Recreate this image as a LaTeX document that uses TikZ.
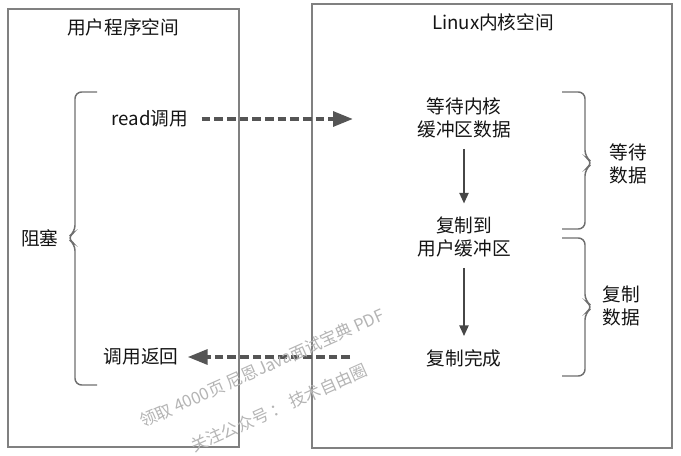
\documentclass[tikz,border=0pt]{standalone}
\usepackage{fontspec}
\setmainfont{Noto Sans CJK SC}
\usetikzlibrary{arrows.meta}
\begin{document}
\begin{tikzpicture}[x=0.75pt,y=0.75pt,yscale=-1,xscale=1,
    label/.style={inner sep=0.75pt,align=center,text={rgb,255:red,20;green,20;blue,20},font=\fontsize{14}{17.5}\selectfont},
    frame/.style={draw={rgb,255:red,128;green,128;blue,128},line width=1.1pt},
    curly/.style={draw={rgb,255:red,110;green,110;blue,110},line width=1.1pt,rounded corners=5pt},
    dasharrow/.style={draw={rgb,255:red,85;green,85;blue,85},line width=3pt,dash pattern=on 6.5pt off 3pt,
        -{Triangle[length=15pt,width=11pt]}},
    steparrow/.style={draw={rgb,255:red,70;green,70;blue,70},line width=1.1pt,
        -{Triangle[length=8pt,width=7pt]},shorten <=7pt,shorten >=9pt},
    mark text/.style={text={rgb,255:red,180;green,180;blue,180},rotate=24,inner sep=0pt,font=\fontsize{12.5}{14}\selectfont}]
        \useasboundingbox (0,0) rectangle (681,456);
        
        %Shape: Rectangle
        \draw [frame] (8,9) rectangle (239,447);
        %Shape: Rectangle
        \draw [frame] (312,4) rectangle (672,448);
        
        %Shape: Brace
        \draw [curly] (97,92) -- (75,92) -- (75,232) -- (67,238) -- (75,244) -- (75,385) -- (97,385);
        %Shape: Brace
        \draw [curly] (562,92) -- (585,92) -- (585,157) -- (593,163) -- (585,169) -- (585,229) -- (562,229);
        %Shape: Brace
        \draw [curly] (562,238) -- (585,238) -- (585,301) -- (593,307) -- (585,313) -- (585,376) -- (562,376);
        
        % Text Node
        \node [label] (usertitle) at (123,27) {用户程序空间};
        % Text Node
        \node [label] (kerneltitle) at (493,22) {Linux内核空间};
        % Text Node
        \node [label] (read) at (150,119) {read调用};
        % Text Node
        \node [label] (ret) at (141,357) {调用返回};
        % Text Node
        \node [label] (block) at (40,238) {阻塞};
        % Text Node
        \node [label] (wait) at (464,118) {等待内核\\缓冲区数据};
        % Text Node
        \node [label] (copy) at (464,237) {复制到\\用户缓冲区};
        % Text Node
        \node [label] (done) at (464,358) {复制完成};
        % Text Node
        \node [label] (waitdata) at (628,164) {等待\\数据};
        % Text Node
        \node [label] (copydata) at (621,306) {复制\\数据};
        
        \coordinate (readend) at (353,119);
        \coordinate (retstart) at (350,357);
        
        %Straight Lines
        \draw [dasharrow] ([xshift=9pt]read.east) -- (readend);
        %Straight Lines
        \draw [dasharrow] (retstart) -- ([xshift=6pt]ret.east);
        %Straight Lines
        \draw [steparrow] (wait) -- (copy);
        %Straight Lines
        \draw [steparrow] (copy) -- (done);
        
        % Text Node
        \node [mark text] (markone) at (262,368) {领取 4000页 尼恩Java面试宝典 PDF};
        % Text Node
        \node [mark text] (marktwo) at (279,408) {关注公众号 ：\ 技术自由圈};
        
    \end{tikzpicture}
\end{document}
